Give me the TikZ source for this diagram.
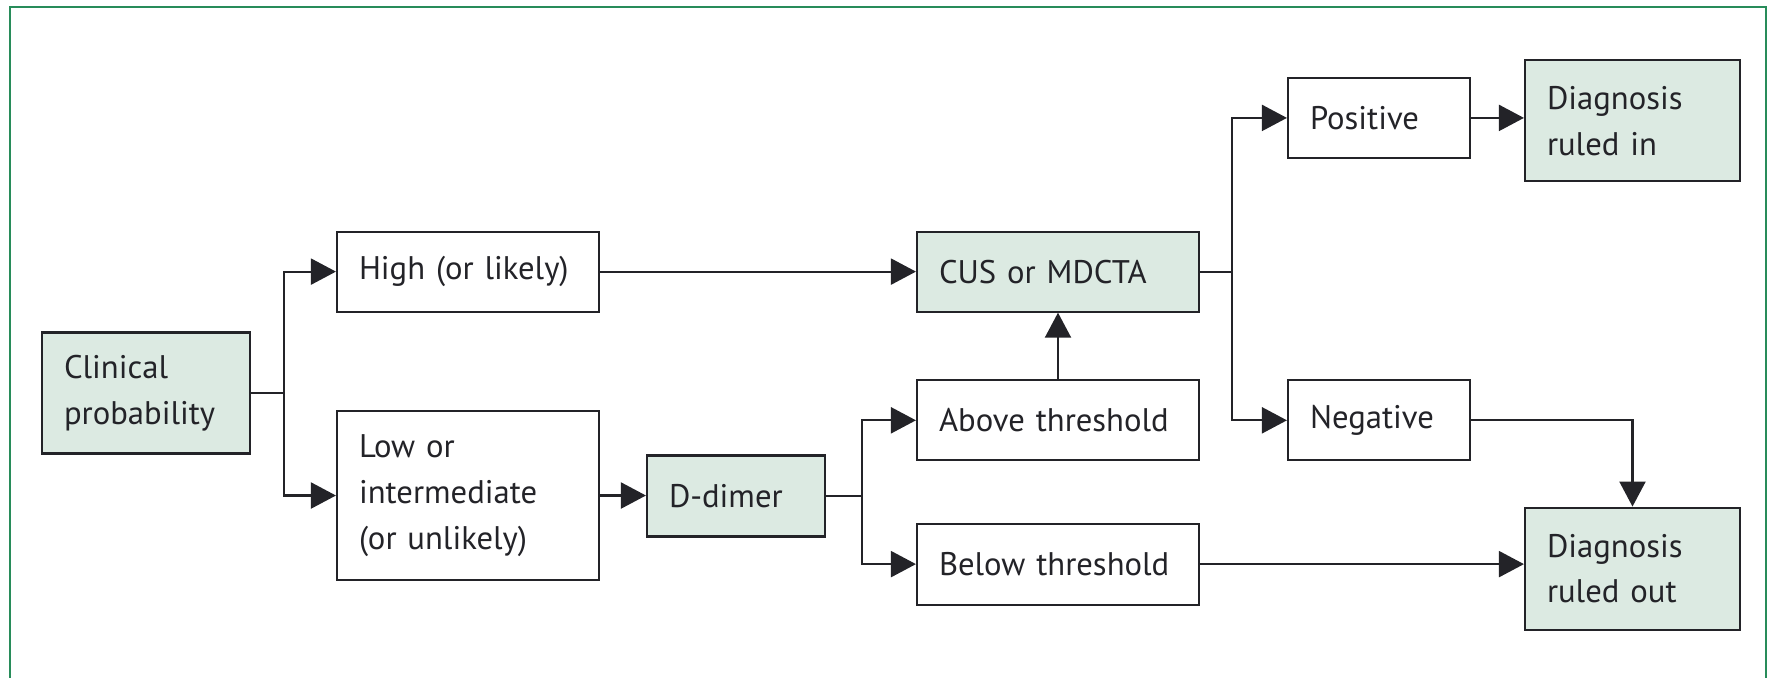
\documentclass[tikz,border=0pt]{standalone}
\usepackage{fontspec}
\setmainfont{PT Sans}
\usetikzlibrary{arrows.meta}
\definecolor{boxfill}{RGB}{220,234,226}
\definecolor{framegreen}{RGB}{40,140,90}
\definecolor{inkgray}{RGB}{35,35,40}

\begin{document}
\begin{tikzpicture}[
    box/.style={draw=inkgray, line width=0.6pt, inner xsep=0.22cm, align=left,
      text=inkgray, font=\fontsize{9.3}{13}\selectfont, minimum height=0.80cm},
    keybox/.style={box, fill=boxfill},
    arr/.style={draw=inkgray, line width=0.6pt, -{Triangle[length=0.25cm,width=0.26cm]}}]
        % Page frame (open at the bottom)
        \useasboundingbox (0,0) rectangle (17.69,-6.77);
        \draw[framegreen, line width=0.7pt] (0.10,-6.9) -- (0.10,-0.07) -- (17.66,-0.07) -- (17.66,-6.9);
        % Boxes
        \node[keybox, text width=1.64cm, minimum height=1.21cm] (clin) at (1.46,-3.93) {Clinical\\probability};
        \node[box, text width=2.18cm] (high) at (4.68,-2.716) {High (or likely)};
        \node[box, text width=2.18cm, minimum height=1.69cm] (low) at (4.68,-4.955) {Low or\\intermediate\\(or unlikely)};
        \node[keybox, text width=1.34cm, minimum height=0.81cm] (ddim) at (7.36,-4.96) {D-dimer};
        \node[keybox, text width=2.38cm] (cus) at (10.58,-2.716) {CUS or MDCTA};
        \node[box, text width=2.38cm] (above) at (10.58,-4.203) {Above threshold};
        \node[box, text width=2.38cm, minimum height=0.81cm] (below) at (10.58,-5.641) {Below threshold};
        \node[box, text width=1.38cm] (pos) at (13.79,-1.179) {Positive};
        \node[box, text width=1.38cm] (neg) at (13.79,-4.203) {Negative};
        \node[keybox, text width=1.71cm, minimum height=1.21cm] (ruledin) at (16.325,-1.209) {Diagnosis\\ruled in};
        \node[keybox, text width=1.71cm, minimum height=1.22cm] (ruledout) at (16.325,-5.686) {Diagnosis\\ruled out};
        % Fork points
        \coordinate (forkA) at (2.84,-3.93);
        \coordinate (forkB) at (8.62,-4.96);
        \coordinate (forkC) at (12.32,-2.716);
        % Connectors
        \draw[inkgray, line width=0.6pt] (clin.east) -- (forkA);
        \draw[arr] (forkA) |- (high.west);
        \draw[arr] (forkA) |- (low.west);
        \draw[arr] (high.east) -- (cus.west);
        \draw[arr] (low.east) -- (low.east -| ddim.west);
        \draw[inkgray, line width=0.6pt] (ddim.east) -- (forkB);
        \draw[arr] (forkB) |- (above.west);
        \draw[arr] (forkB) |- (below.west);
        \draw[arr] (above.north) -- (cus.south);
        \draw[inkgray, line width=0.6pt] (cus.east) -- (forkC);
        \draw[arr] (forkC) |- (pos.west);
        \draw[arr] (forkC) |- (neg.west);
        \draw[arr] (pos.east) -- (pos.east -| ruledin.west);
        \draw[arr] (neg.east) -| (ruledout.north);
        \draw[arr] (below.east) -- (below.east -| ruledout.west);
\end{tikzpicture}
\end{document}
